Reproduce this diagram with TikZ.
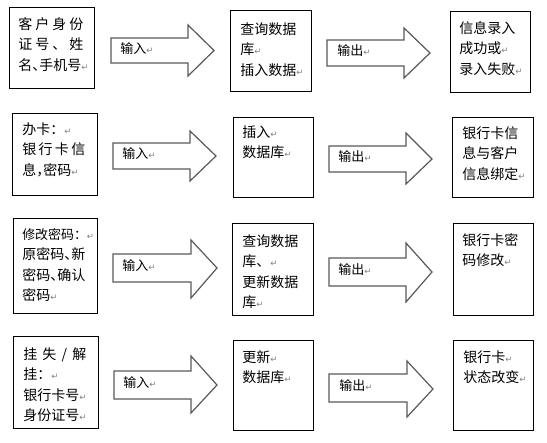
\documentclass[tikz,border=0pt]{standalone}
\usepackage{fontspec}
\usetikzlibrary{fit}
\newfontfamily\cjk{Noto Sans CJK SC}
\newfontfamily\cjkh[RawFeature=+halt]{Noto Sans CJK SC}
\newfontfamily\dvfont{DejaVu Sans}
\newcommand{\rt}{{\dvfont\fontsize{6.5pt}{6.5pt}\selectfont\textcolor{gray}{↵}}}
\newcommand{\spr}[2]{\makebox[#1][s]{#2}}
\newcommand{\hp}[1]{{\cjkh #1}}
\tikzset{
  x=0.75pt, y=-0.75pt,
  box/.style={draw=black, line width=0.75pt, inner sep=0pt},
  txt/.style={anchor=north west, inner sep=0pt, align=left, text=black,
    font=\cjk\fontsize{10.5pt}{15.4pt}\selectfont},
  lab/.style={anchor=west, inner sep=0pt, text=black,
    font=\cjk\fontsize{9.75pt}{15.4pt}\selectfont},
  blk/.style={draw=black!65, line width=0.9pt, fill=white, line join=miter}
}
\begin{document}
\begin{tikzpicture}
\useasboundingbox (0,0) rectangle (547,443);
% ---------- boxes ----------
\node[box, fit={(9,7) (94,88)}] (b11) {};
\node[box, fit={(230,10) (311,91)}] (b12) {};
\node[box, fit={(450,11) (530,92)}] (b13) {};
\node[box, fit={(12,113) (97,195)}] (b21) {};
\node[box, fit={(233,117) (313,197)}] (b22) {};
\node[box, fit={(452,117) (533,197)}] (b23) {};
\node[box, fit={(13,218) (97,313)}] (b31) {};
\node[box, fit={(232,223) (313,315)}] (b32) {};
\node[box, fit={(453,223) (533,315)}] (b33) {};
\node[box, fit={(13,336) (98,428)}] (b41) {};
\node[box, fit={(233,340) (313,430)}] (b42) {};
\node[box, fit={(453,340) (533,430)}] (b43) {};
% ---------- texts ----------
\node[txt] (t11) at (18,17) {\spr{48.75pt}{客\hfill 户\hfill 身\hfill 份}\\\spr{48.75pt}{证\hfill 号\hfill 、\hfill 姓}\\名\hp{、}手机号\rt};
\node[txt] (t12) at (240,22) {查询数据\\库\rt\\插入数据\rt};
\node[txt] (t13) at (459,21) {信息录入\\成功或\rt\\录入失败\rt};
\node[txt] (t21) at (22,122) {办卡：\rt\\\spr{47.25pt}{银\hfill 行\hfill 卡\hfill 信}\\息\hp{，}密码\rt};
\node[txt] (t22) at (242,125) {插入\rt\\数据库\rt};
\node[txt] (t23) at (462,126) {银行卡信\\息与客户\\信息绑定\rt};
\node[txt] (t31) at (22,228) {{\fontsize{9.7pt}{15.4pt}\selectfont 修改密码：}\rt\\原密码\hp{、}新\\密码\hp{、}确认\\密码\rt};
\node[txt] (t32) at (242,234) {查询数据\\库、\rt\\更新数据\\库\rt};
\node[txt] (t33) at (462,233) {银行卡密\\码修改\rt};
\node[txt] (t41) at (23,347) {\spr{47.25pt}{挂\hfill 失\hfill /\hfill 解}\\挂：\rt\\银行卡号\rt\\身份证号\rt};
\node[txt] (t42) at (242,350) {更新\rt\\数据库\rt};
\node[txt] (t43) at (463,350) {银行卡\rt\\状态改变\rt};
% ---------- block arrows ----------
\draw[blk] (111,38) -- (188,38) -- (188,25) -- (214,50.5) -- (188,76) -- (188,63) -- (111,63) -- cycle;
\draw[blk] (327,40) -- (404,40) -- (404,28) -- (430,53) -- (404,78) -- (404,66) -- (327,66) -- cycle;
\draw[blk] (113,143) -- (190,143) -- (190,131) -- (216,156) -- (190,181) -- (190,169) -- (113,169) -- cycle;
\draw[blk] (329,146) -- (406,146) -- (406,133) -- (432,159) -- (406,184) -- (406,172) -- (329,172) -- cycle;
\draw[blk] (113,254) -- (191,254) -- (191,240) -- (217,268) -- (191,298) -- (191,282) -- (113,282) -- cycle;
\draw[blk] (329,258) -- (406,258) -- (406,243) -- (432,272) -- (406,302) -- (406,286) -- (329,286) -- cycle;
\draw[blk] (114,371) -- (191,371) -- (191,356) -- (217,385) -- (191,413) -- (191,399) -- (114,399) -- cycle;
\draw[blk] (329,374) -- (407,374) -- (407,361) -- (433,389) -- (407,417) -- (407,402) -- (329,402) -- cycle;
% ---------- arrow labels ----------
\node[lab] (l11) at (120,48.5) {输入\rt};
\node[lab] (l12) at (337,51) {输出\rt};
\node[lab] (l21) at (122,154) {输入\rt};
\node[lab] (l22) at (338,157) {输出\rt};
\node[lab] (l31) at (122,266) {输入\rt};
\node[lab] (l32) at (338,270) {输出\rt};
\node[lab] (l41) at (123,383) {输入\rt};
\node[lab] (l42) at (339,386) {输出\rt};
\end{tikzpicture}
\end{document}
